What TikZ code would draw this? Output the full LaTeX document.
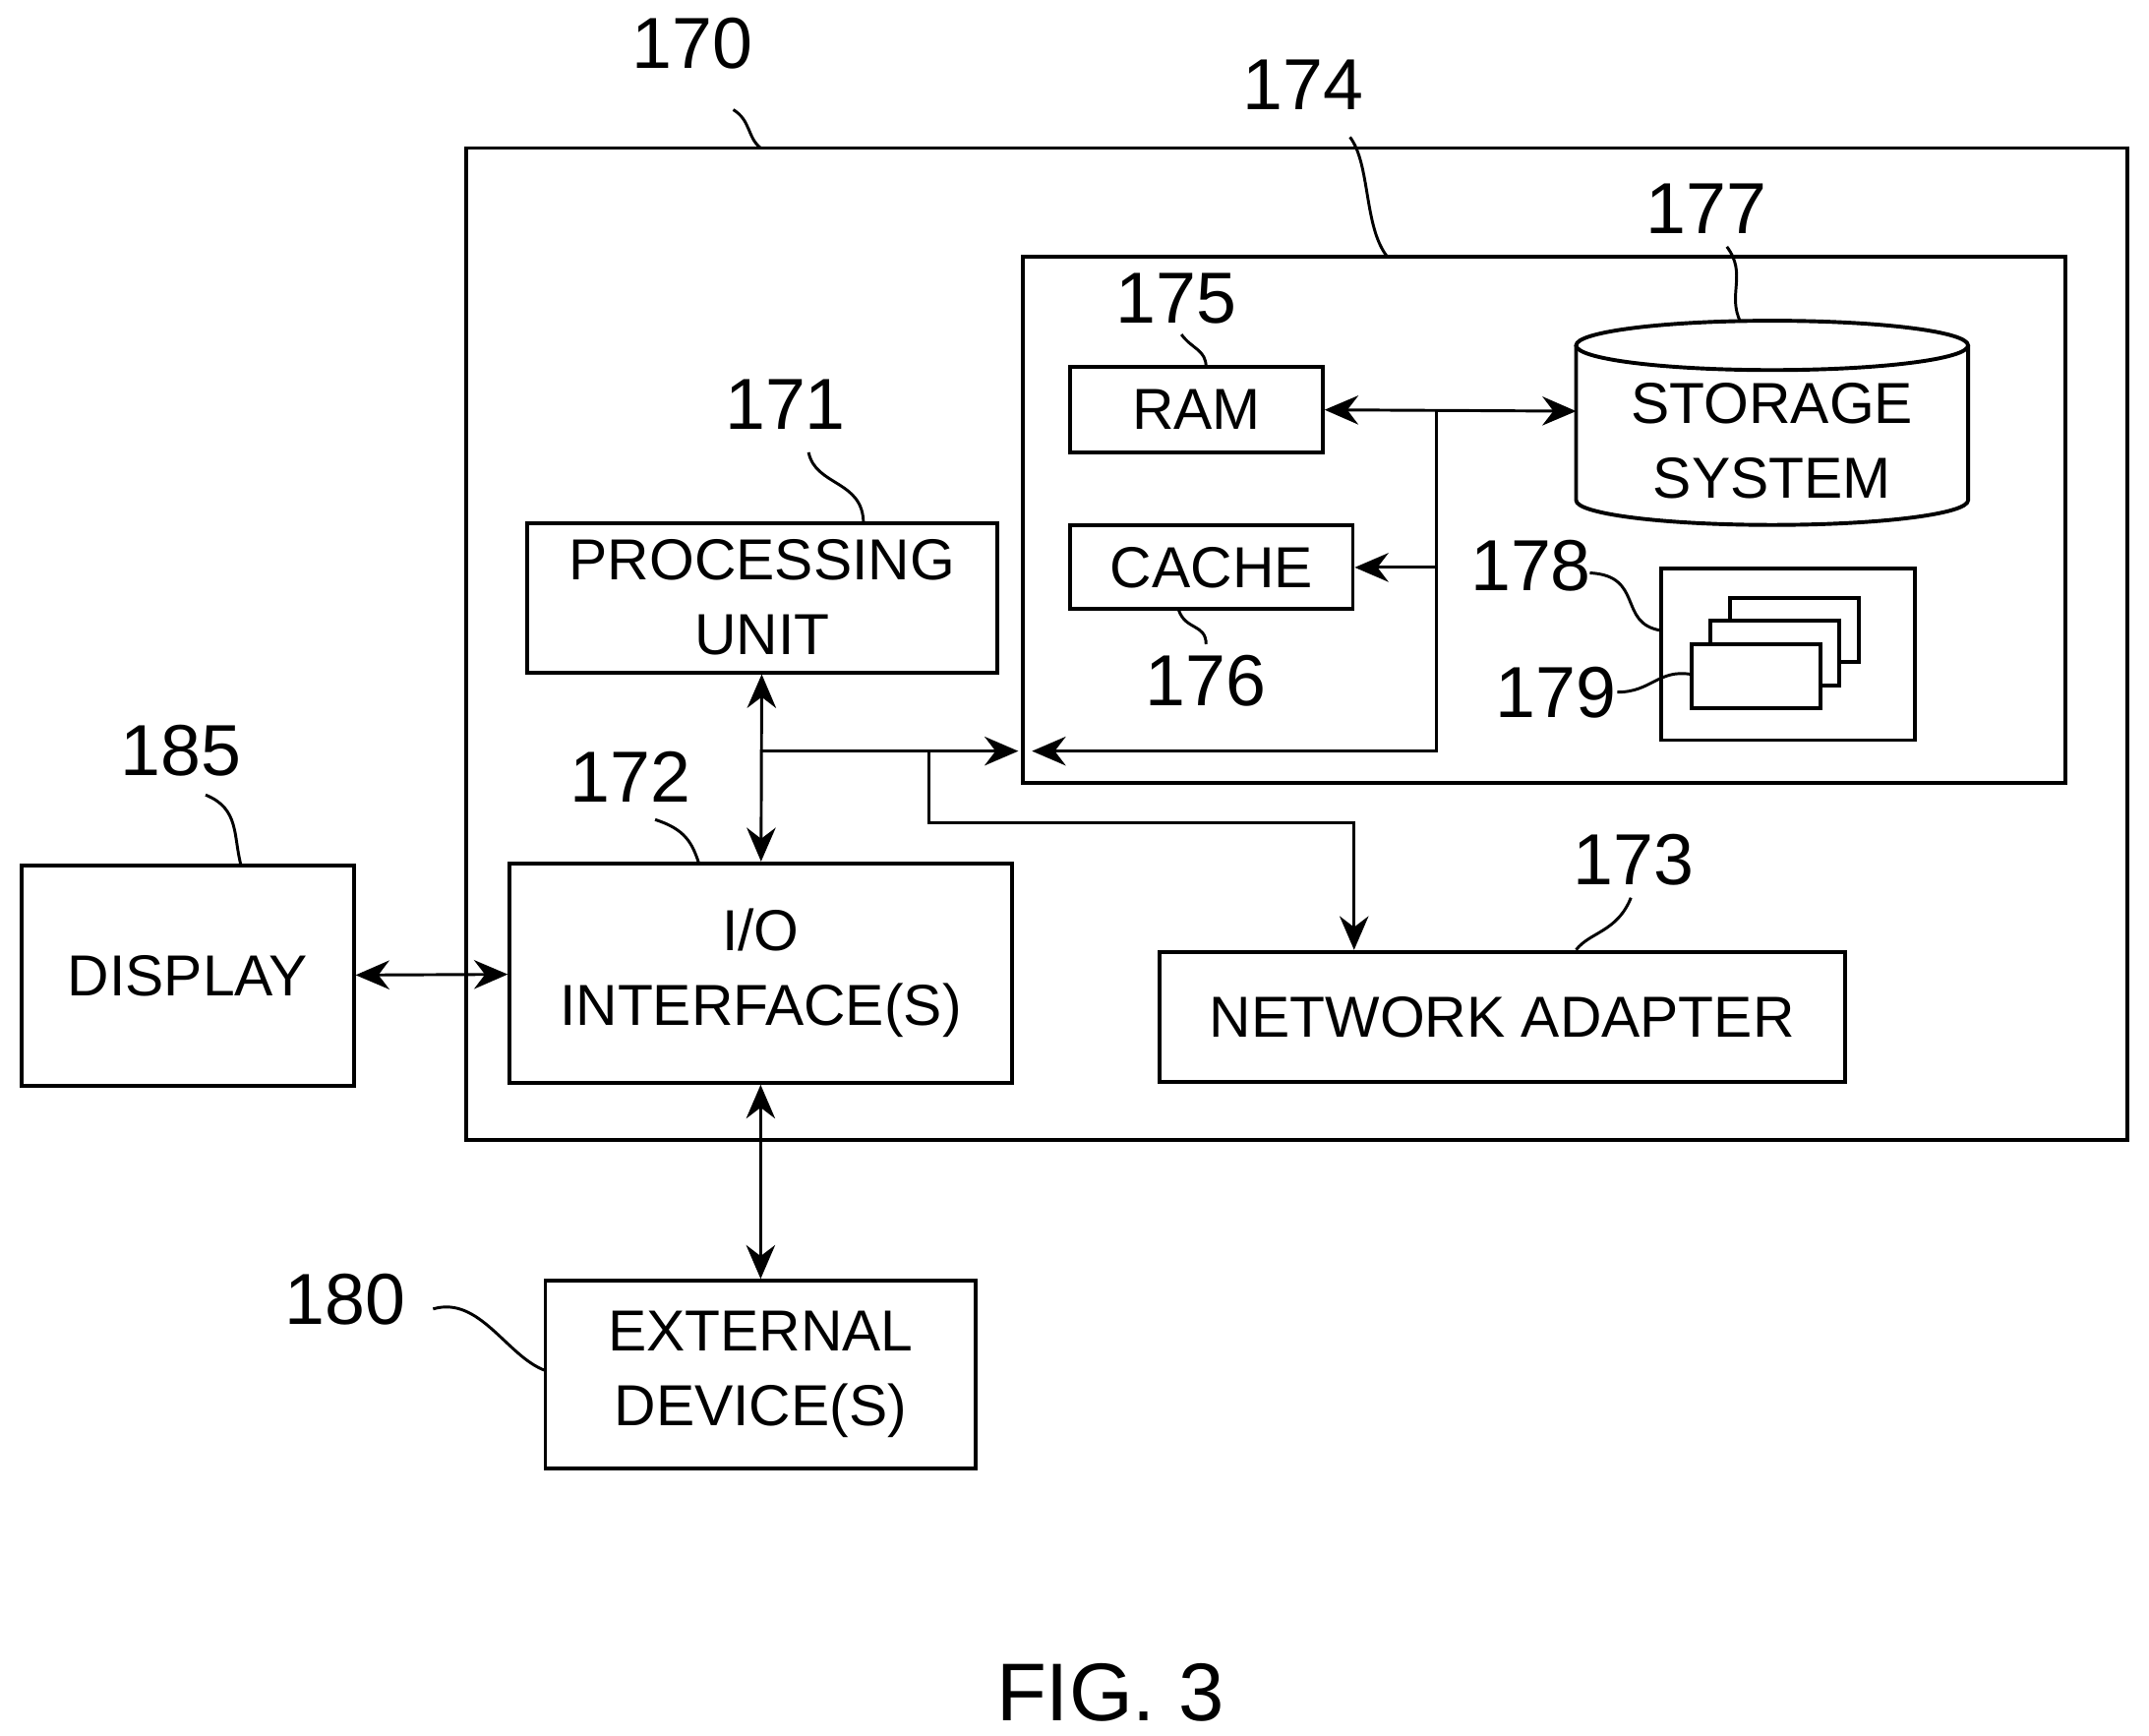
\documentclass[tikz,border=0pt]{standalone}
\usepackage{fontspec}
\setmainfont{Liberation Sans}
\usetikzlibrary{arrows.meta}
\tikzset{
  >={Stealth[length=7pt,width=6pt]},
  blk/.style={draw, thick, align=center, inner sep=0pt, font=\fontsize{12}{15.5}\selectfont},
  line/.style={draw, semithick, <->},
  lead/.style={draw, semithick},
  num/.style={font=\fontsize{15}{18}\selectfont},
}
\begin{document}
\begin{tikzpicture}[x=0.01cm, y=-0.01cm]
\useasboundingbox (0,0) rectangle (1568,1266);
% frames
\draw[thick] (340,108) rectangle (1552,832);
\draw[thick] (746,187) rectangle (1507,571);
% blocks
\node[blk, minimum width=1.84cm, minimum height=0.62cm] (ram) at (873,299) {RAM};
\node[blk, minimum width=2.06cm, minimum height=0.61cm] (cache) at (884,414) {CACHE};
\node[blk, minimum width=3.43cm, minimum height=1.09cm] (proc) at (556,436) {PROCESSING\\UNIT};
\node[blk, minimum width=3.66cm, minimum height=1.6cm] (io) at (555,710) {I/O\\INTERFACE(S)};
\node[blk, minimum width=5.0cm, minimum height=0.95cm] (net) at (1096,742) {NETWORK ADAPTER};
\node[blk, minimum width=2.42cm, minimum height=1.61cm] (disp) at (137,712) {DISPLAY};
\node[blk, minimum width=3.14cm, minimum height=1.37cm] (ext) at (555,1003) {EXTERNAL\\DEVICE(S)};
% storage system
\draw[thick] (1150,252) -- (1150,365) arc[start angle=180, end angle=0, x radius=143, y radius=18]
  -- (1436,252);
\draw[thick] (1293,252) ellipse[x radius=143, y radius=18];
\node[font=\fontsize{12}{15.5}\selectfont, align=center] (stor) at (1293,322) {STORAGE\\SYSTEM};
\coordinate (storw) at (1150,300);
% program modules
\draw[thick] (1212,415) rectangle (1397,540);
\foreach \dx/\dy in {28/-34, 14/-17, 0/0}
  \draw[thick, fill=white] (1234+\dx,470+\dy) rectangle (1328+\dx,517+\dy);
% bus
\coordinate (bj) at (1048,300);
\coordinate (bc) at (1048,548);
\coordinate (bl) at (556,548);
\coordinate (bn) at (678,548);
\draw[line] (disp) -- (io);
\draw[line] (proc) -- (io);
\draw[line] (io) -- (ext);
\draw[line] (ram.east) -- (storw);
\draw[semithick, ->] (bj) -- (bc) -- ++(-295,0);
\draw[semithick, ->] (cache.east-|bj) -- (cache.east);
\draw[semithick, ->] (bl) -- ++(187,0);
\draw[semithick, ->] (bn) -- ++(0,52) -| (net.north-|988,0);
% leaders
\node[num] (n170) at (505,32) {170};
\draw[lead] (535,80) .. controls (548,88) and (545,100) .. (555,108);
\node[num] (n174) at (951,62) {174};
\draw[lead] (985,100) .. controls (1000,120) and (995,165) .. (1012,187);
\node[num] (n177) at (1245,152) {177};
\draw[lead] (1260,180) .. controls (1275,200) and (1260,215) .. (1270,235);
\node[num] (n175) at (858,218) {175};
\draw[lead] (862,244) .. controls (870,255) and (880,255) .. (880,268);
\node[num] (n171) at (573,295) {171};
\draw[lead] (590,330) .. controls (595,355) and (630,350) .. (630,382);
\node[num] (n176) at (880,497) {176};
\draw[lead] (860,445) .. controls (865,460) and (880,455) .. (880,470);
\node[num] (n178) at (1117,413) {178};
\draw[lead] (1160,418) .. controls (1200,420) and (1180,455) .. (1212,460);
\node[num] (n179) at (1135,505) {179};
\draw[lead] (1180,505) .. controls (1205,505) and (1210,488) .. (1234,492);
\node[num] (n185) at (132,548) {185};
\draw[lead] (150,580) .. controls (175,590) and (170,610) .. (176,632);
\node[num] (n172) at (460,567) {172};
\draw[lead] (478,598) .. controls (500,605) and (505,615) .. (510,630);
\node[num] (n173) at (1192,627) {173};
\draw[lead] (1190,655) .. controls (1180,680) and (1160,680) .. (1150,693);
\node[num] (n180) at (252,948) {180};
\draw[lead] (316,955) .. controls (350,945) and (370,990) .. (398,1000);
\node[font=\fontsize{17}{20}\selectfont] (fig) at (810,1235) {FIG. 3};
\end{tikzpicture}
\end{document}
